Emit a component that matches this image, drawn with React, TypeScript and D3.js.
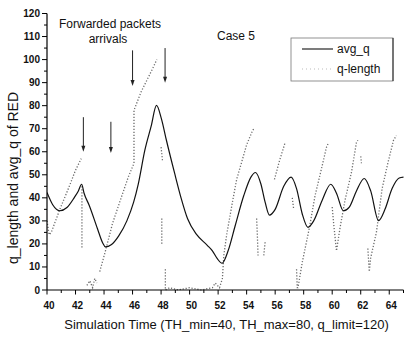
import React from "react";
import * as d3 from "d3";

// ---- data ----
const avgTime = [40.0, 40.4, 40.9, 41.4, 41.9, 42.2, 42.43, 42.6, 42.97, 43.54, 43.9, 44.1, 44.5, 45.03, 45.6, 46.07, 46.4, 46.87, 47.3, 47.68, 48.02, 48.37, 48.94, 49.4, 49.86, 50.5, 51.24, 51.6, 51.93, 52.28, 52.7, 53.2, 53.8, 54.3, 54.62, 55.0, 55.3, 55.6, 56.0, 56.6, 57.12, 57.5, 57.9, 58.3, 58.7, 59.3, 59.9, 60.3, 60.78, 61.2, 61.7, 62.25, 62.7, 63.25, 63.7, 64.2, 64.7, 65.0];
const avgQ = [42.3, 37.0, 34.4, 35.8, 40.0, 43.0, 45.9, 42.0, 36.6, 26.6, 20.5, 18.7, 19.6, 23.5, 30.0, 38.0, 46.0, 60.9, 71.0, 80.1, 74.4, 65.1, 50.9, 40.0, 30.9, 24.0, 19.4, 17.0, 13.7, 11.6, 17.0, 28.0, 41.0, 49.0, 51.0, 46.0, 38.0, 32.5, 35.0, 45.0, 49.0, 44.0, 33.0, 27.2, 30.0, 39.0, 45.9, 42.0, 34.4, 36.0, 43.0, 48.4, 43.0, 30.1, 35.0, 44.0, 48.6, 49.0];

// null marks a break in the q-length trace
const qTime = [40.0, 40.15, 40.3, 40.9, 41.5, 42.0, 42.4, null, 42.45, 42.45, null, 42.8, 43.0, 43.2, 43.35, 43.5, null, 43.7, 44.1, 44.6, 45.2, 45.7, 46.1, 46.1, 46.6, 47.0, 47.4, 47.7, null, 48.0, 48.1, null, 48.05, 48.05, null, 48.3, 48.3, 48.6, 49.2, 50.0, 50.8, 51.6, 51.8, 52.1, 52.3, 52.4, 52.6, 53.0, 53.3, 54.0, 54.4, 54.5, null, 54.7, 54.75, 54.8, null, 55.2, 55.3, null, 55.95, 56.3, 56.7, null, 57.2, 57.3, null, 57.5, 57.55, 57.6, 57.9, 58.4, 58.8, 59.3, 59.6, 59.75, null, 60.0, 60.1, 60.3, 60.55, 60.9, 61.35, 61.7, 61.8, null, 62.0, 62.05, null, 62.5, 62.6, 62.7, 63.1, 63.5, 63.9, 64.3, 64.5];
const qLength = [30, 24, 25, 35, 44, 52, 57, null, 45, 18, null, 2, 4, 1, 5, 3, null, 8, 17, 29, 40, 49, 55, 78, 86, 91, 96, 100, null, 62, 56, null, 31, 20, null, 9, 0, 1, 0, 1, 0, 1, 3, 1, 5, 15, 24, 38, 48, 63, 69, 70, null, 31, 24, 15, null, 15, 21, null, 48, 56, 64, null, 40, 35, null, 9, 1, 1, 12, 27, 41, 54, 62, 64, null, 36, 29, 17, 27, 39, 51, 64, 65, null, 58, 55, null, 18, 8, 14, 25, 44, 55, 65, 67];

const xTickValues = [40, 42, 44, 46, 48, 50, 52, 54, 56, 58, 60, 62, 64];
const yTickValues = [0, 10, 20, 30, 40, 50, 60, 70, 80, 90, 100, 110, 120];

// annotation arrows: time, top value, tip value
const arrowTime = [42.55, 44.48, 46.0, 48.28];
const arrowTop = [75, 73, 104, 105];
const arrowTip = [60, 59.5, 88.5, 90];

const W = 407;
const H = 337;
const FONT = "'Liberation Sans', Arial, sans-serif";

export default function App() {
  const x = d3.scaleLinear().domain([40, 65]).range([47, 403.5]);
  const y = d3.scaleLinear().domain([0, 120]).range([290, 13.5]);

  const avgPts: [number, number][] = avgTime.map((t, i) => [t, avgQ[i]]);
  const avgLine = d3
    .line<[number, number]>()
    .x((d) => x(d[0]))
    .y((d) => y(d[1]))
    .curve(d3.curveMonotoneX);

  const qPts = qTime.map((t, i) => [t, qLength[i]] as [number | null, number | null]);
  const qLine = d3
    .line<[number | null, number | null]>()
    .defined((d) => d[0] !== null && d[1] !== null)
    .x((d) => x(d[0] as number))
    .y((d) => y(d[1] as number));

  const minorX = d3.range(41, 66, 2);
  const minorY = d3.range(5, 120, 10);
  const y0 = y(0);

  return (
    <svg
      width={W}
      height={H}
      style={{ position: "absolute", left: 0, top: 0, background: "#fff" }}
      fontFamily={FONT}
    >
      <defs>
        <clipPath id="plot">
          <rect x={47} y={0} width={W - 47} height={y0 + 1} />
        </clipPath>
      </defs>

      {/* series */}
      <g clipPath="url(#plot)">
        <path
          d={qLine(qPts) || ""}
          fill="none"
          stroke="#6a6a6a"
          strokeWidth={1.3}
          strokeDasharray="1.2,1.8"
        />
        <path d={avgLine(avgPts) || ""} fill="none" stroke="#111" strokeWidth={1.2} />
      </g>

      {/* axes */}
      <line x1={47} x2={47} y1={y(120)} y2={y0} stroke="#000" strokeWidth={1.2} />
      <line x1={47} x2={x(65)} y1={y0} y2={y0} stroke="#000" strokeWidth={1.2} />

      {yTickValues.map((v) => (
        <g key={"y" + v}>
          <line x1={42} x2={47} y1={y(v)} y2={y(v)} stroke="#000" strokeWidth={1} />
          <text
            x={40}
            y={y(v)}
            dy="0.35em"
            textAnchor="end"
            fontSize={10}
            fontWeight="bold"
            fill="#111"
          >
            {v}
          </text>
        </g>
      ))}
      {minorY.map((v) => (
        <line key={"my" + v} x1={44} x2={47} y1={y(v)} y2={y(v)} stroke="#000" strokeWidth={1} />
      ))}

      {xTickValues.map((v) => (
        <g key={"x" + v}>
          <line x1={x(v)} x2={x(v)} y1={y0} y2={y0 + 4.5} stroke="#000" strokeWidth={1} />
          <text
            x={x(v) + 2}
            y={y0 + 19}
            textAnchor="middle"
            fontSize={10}
            fontWeight="bold"
            fill="#111"
          >
            {v}
          </text>
        </g>
      ))}
      {minorX.map((v) => (
        <line key={"mx" + v} x1={x(v)} x2={x(v)} y1={y0} y2={y0 + 3} stroke="#000" strokeWidth={1} />
      ))}

      {/* axis titles */}
      <text x={226.5} y={329} textAnchor="middle" fontSize={13} fill="#111">
        Simulation Time (TH_min=40, TH_max=80, q_limit=120)
      </text>
      <text
        transform={`translate(18,${178}) rotate(-90)`}
        textAnchor="middle"
        fontSize={14}
        fill="#111"
      >
        q_length and avg_q of RED
      </text>

      {/* annotations */}
      <text x={110} y={28} textAnchor="middle" fontSize={12} fill="#111">
        Forwarded packets
      </text>
      <text x={108} y={43} textAnchor="middle" fontSize={12} fill="#111">
        arrivals
      </text>
      <text x={217} y={40} fontSize={12} fill="#111">
        Case 5
      </text>

      {arrowTime.map((t, i) => (
        <g key={"a" + i}>
          <line
            x1={x(t)}
            x2={x(t)}
            y1={y(arrowTop[i])}
            y2={y(arrowTip[i]) - 4}
            stroke="#222"
            strokeWidth={1}
          />
          <path
            d={`M${x(t) - 2},${y(arrowTip[i]) - 6} L${x(t) + 2},${y(arrowTip[i]) - 6} L${x(t)},${y(arrowTip[i])} Z`}
            fill="#222"
          />
        </g>
      ))}

      {/* legend */}
      <rect x={291} y={38} width={102} height={43} fill="#fff" stroke="#777" strokeWidth={0.8} />
      <line x1={393} x2={393} y1={38} y2={81} stroke="#222" strokeWidth={1} />
      <line x1={302} x2={333} y1={49} y2={49} stroke="#111" strokeWidth={1.1} />
      <text x={337} y={53} fontSize={12} fill="#111">
        avg_q
      </text>
      <line x1={302} x2={333} y1={69} y2={69} stroke="#bbb" strokeWidth={1} strokeDasharray="1,3" />
      <text x={337} y={73} fontSize={12} fill="#111">
        q-length
      </text>
    </svg>
  );
}
